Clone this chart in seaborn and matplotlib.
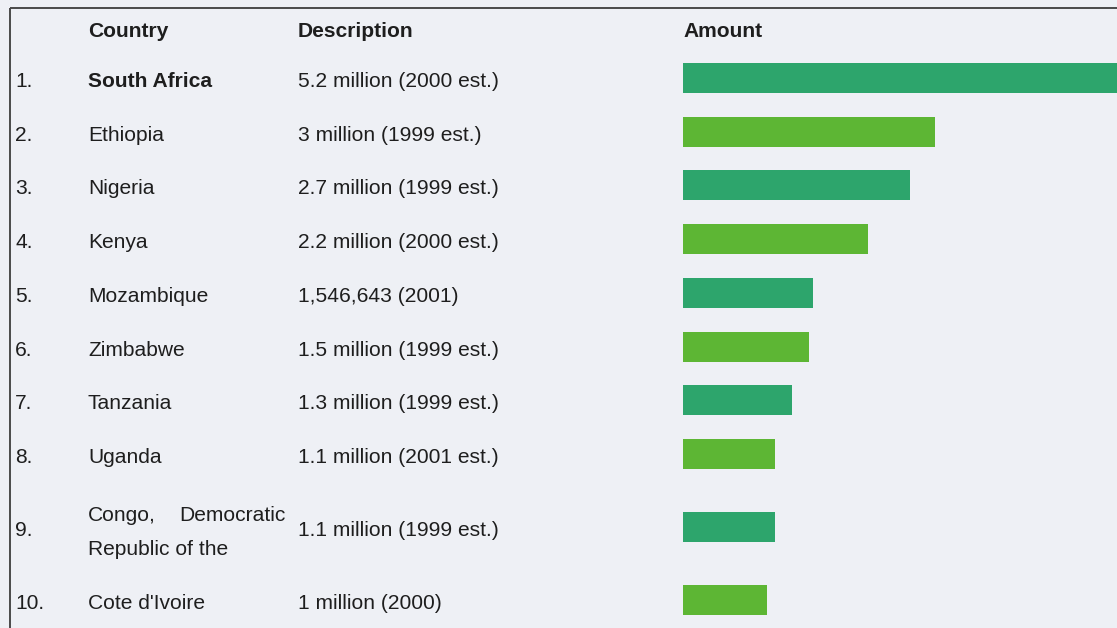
import textwrap

import matplotlib
matplotlib.use("Agg")
import matplotlib.pyplot as plt
import numpy as np
import pandas as pd
import seaborn as sns

# Ten countries, amounts in millions of people
ranks = ["1.", "2.", "3.", "4.", "5.", "6.", "7.", "8.", "9.", "10."]
countries = ["South Africa", "Ethiopia", "Nigeria", "Kenya", "Mozambique",
             "Zimbabwe", "Tanzania", "Uganda",
             "Congo, Democratic Republic of the", "Cote d'Ivoire"]
descriptions = ["5.2 million (2000 est.)", "3 million (1999 est.)",
                "2.7 million (1999 est.)", "2.2 million (2000 est.)",
                "1,546,643 (2001)", "1.5 million (1999 est.)",
                "1.3 million (1999 est.)", "1.1 million (2001 est.)",
                "1.1 million (1999 est.)", "1 million (2000)"]
amounts = [5.2, 3.0, 2.7, 2.2, 1.546643, 1.5, 1.3, 1.1, 1.1, 1.0]
headers = ["Country", "Description", "Amount"]

W, H = 1117, 628
BG = "#eef0f5"
TXT = "#1e1e1e"
FONT = "Liberation Sans"
FS = 15.1
CAP_HALF = 0.716 * FS * 100 / 72 / 2   # half cap height in pixels

sns.set_theme(style="white")
plt.rcParams["font.family"] = [FONT, "DejaVu Sans"]

# row layout (pixel units, top = 0)
wrapped = [textwrap.wrap(c, 20) for c in countries]
line_gap = 34
pitch = 53.7
row_h = [pitch if len(w) == 1 else len(w) * line_gap + 24.5 for w in wrapped]
centers = []
y = 78 - row_h[0] / 2
for h in row_h:
    centers.append(y + h / 2)
    y += h

fig = plt.figure(figsize=(W / 100, H / 100), dpi=100, facecolor=BG)

# overlay for table text and frame
tx = fig.add_axes([0, 0, 1, 1])
tx.set_xlim(0, W)
tx.set_ylim(H, 0)
tx.axis("off")
tx.set_facecolor(BG)


def put(x, cy, s, ha="left", weight="normal"):
    """Draw text whose capital letters are centred on cy."""
    tx.text(x, cy + CAP_HALF, s, fontsize=FS, color=TXT, va="baseline",
            ha=ha, fontweight=weight)


col_rank, col_country, col_desc, col_bar = 15, 88, 298, 683
col_country_right = 286
header_y = 29.5
text_shift = 1.5
for hx, text in zip([col_country, col_desc, col_bar], headers):
    put(hx, header_y, text, weight="bold")

for i, (rk, lines, desc, cy) in enumerate(zip(ranks, wrapped, descriptions, centers)):
    weight = "bold" if i == 0 else "normal"
    ty = cy + text_shift
    put(col_rank, ty, rk)
    put(col_desc, ty, desc)
    n = len(lines)
    for j, line in enumerate(lines):
        ly = ty + (j - (n - 1) / 2) * line_gap + (1.5 if n > 1 else 0)
        words = line.split()
        if n > 1 and j < n - 1 and len(words) > 1:
            # justified line: first word at the left edge, the rest flush right
            put(col_country, ly, words[0], weight=weight)
            put(col_country_right, ly, " ".join(words[1:]), ha="right", weight=weight)
        else:
            put(col_country, ly, line, weight=weight)

# frame: top and left edges
tx.plot([10, W], [8, 8], color="#4a4a4a", lw=1.4, solid_capstyle="butt")
tx.plot([10, 10], [8, H], color="#4a4a4a", lw=1.4, solid_capstyle="butt")

# bar panel
px_per_million = 84
ax = fig.add_axes([col_bar / W, 0, (W - col_bar) / W, 1])
ax.patch.set_alpha(0)
df = pd.DataFrame({
    "amount": amounts,
    "y": centers,
    "shade": ["dark" if i % 2 == 0 else "light" for i in range(len(amounts))],
})
sns.barplot(data=df, x="amount", y="y", hue="shade", orient="h",
            native_scale=True, dodge=False, width=30 / pitch,
            palette={"dark": "#2da56c", "light": "#5db634"},
            legend=False, ax=ax, linewidth=0, saturation=1)
ax.set_xlim(0, (W - col_bar) / px_per_million)
ax.set_ylim(H, 0)
ax.axis("off")

fig.savefig("out.png", dpi=100, facecolor=BG)
